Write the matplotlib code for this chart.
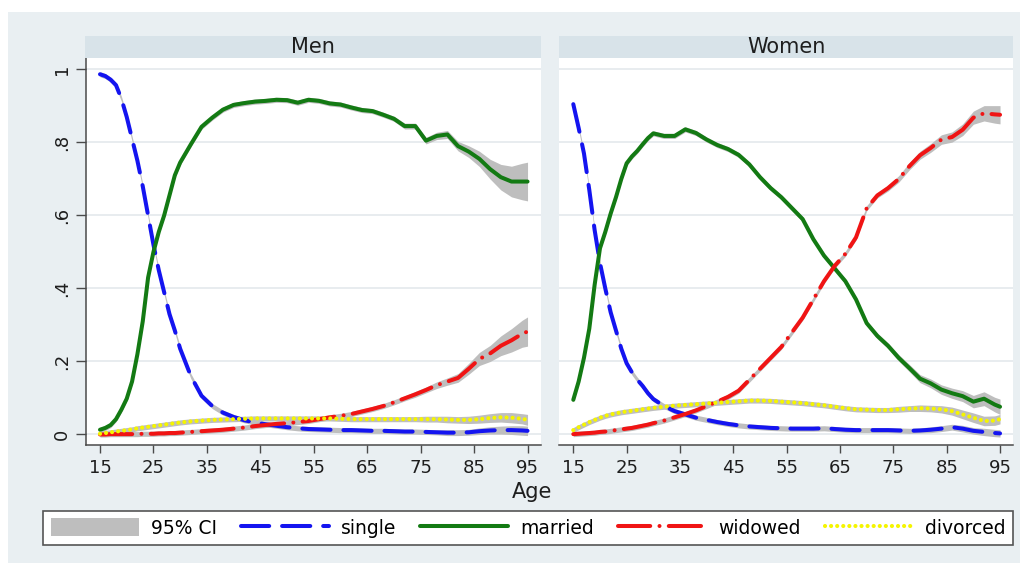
"""
Marital status by age, men and women, with 95% CI bands.
Two Stata-style panels with a shared legend underneath.
"""

import matplotlib.pyplot as plt
from matplotlib.patches import Rectangle, Patch
from matplotlib.lines import Line2D

W, H = 1024, 565

# Ages: yearly up to 30, then every 2 years, plus 95
ages = list(range(15, 31)) + list(range(32, 95, 2)) + [95]

# Men
men_single = [0.987, 0.982, 0.972, 0.957, 0.92, 0.87, 0.81, 0.75, 0.68, 0.60, 0.52, 0.45, 0.39, 0.33, 0.285, 0.235,
              0.16, 0.106, 0.078, 0.06, 0.048, 0.039, 0.033, 0.028, 0.024, 0.02, 0.017, 0.015, 0.014, 0.013, 0.012, 0.012,
              0.011, 0.01, 0.01, 0.009, 0.008, 0.008, 0.007, 0.006, 0.005, 0.005, 0.006, 0.009, 0.011, 0.012, 0.012, 0.011,
              0.010]
men_married = [0.013, 0.018, 0.026, 0.042, 0.068, 0.098, 0.145, 0.22, 0.31, 0.43, 0.50, 0.555, 0.60, 0.655, 0.71, 0.745,
               0.795, 0.843, 0.868, 0.89, 0.903, 0.908, 0.912, 0.914, 0.917, 0.916, 0.909, 0.917, 0.914, 0.907, 0.904, 0.896,
               0.889, 0.886, 0.876, 0.865, 0.845, 0.845, 0.805, 0.818, 0.822, 0.79, 0.775, 0.755, 0.727, 0.705, 0.693, 0.693,
               0.693]
men_widowed = [0.0, 0.0, 0.001, 0.001, 0.001, 0.001, 0.001, 0.001, 0.002, 0.002, 0.002, 0.003, 0.003, 0.004, 0.004, 0.005,
               0.007, 0.009, 0.011, 0.013, 0.016, 0.019, 0.023, 0.026, 0.029, 0.031, 0.034, 0.037, 0.042, 0.047, 0.051, 0.056,
               0.063, 0.07, 0.078, 0.088, 0.099, 0.11, 0.122, 0.135, 0.145, 0.155, 0.18, 0.207, 0.222, 0.243, 0.258, 0.276,
               0.282]
men_divorced = [0.002, 0.004, 0.006, 0.008, 0.01, 0.012, 0.014, 0.017, 0.019, 0.021, 0.023, 0.025, 0.027, 0.029, 0.031, 0.033,
                0.036, 0.038, 0.04, 0.041, 0.042, 0.043, 0.044, 0.044, 0.044, 0.044, 0.044, 0.044, 0.044, 0.044, 0.043, 0.042,
                0.042, 0.042, 0.042, 0.042, 0.042, 0.042, 0.042, 0.042, 0.041, 0.040, 0.040, 0.042, 0.045, 0.047, 0.046, 0.043,
                0.040]

# Women
women_single = [0.905, 0.84, 0.77, 0.67, 0.56, 0.47, 0.40, 0.335, 0.285, 0.235, 0.195, 0.17, 0.15, 0.133, 0.113, 0.097,
                0.078, 0.064, 0.055, 0.046, 0.04, 0.034, 0.029, 0.025, 0.022, 0.02, 0.018, 0.017, 0.016, 0.016, 0.016, 0.017,
                0.015, 0.013, 0.012, 0.012, 0.012, 0.012, 0.011, 0.01, 0.011, 0.013, 0.016, 0.02, 0.016, 0.01, 0.007, 0.004,
                0.003]
women_married = [0.095, 0.145, 0.21, 0.29, 0.41, 0.51, 0.555, 0.605, 0.65, 0.70, 0.743, 0.762, 0.777, 0.795, 0.812, 0.825,
                 0.818, 0.818, 0.836, 0.826, 0.808, 0.793, 0.782, 0.766, 0.74, 0.705, 0.675, 0.65, 0.62, 0.59, 0.535, 0.49,
                 0.455, 0.42, 0.37, 0.305, 0.27, 0.243, 0.21, 0.182, 0.153, 0.14, 0.123, 0.113, 0.105, 0.09, 0.098, 0.082,
                 0.076]
women_widowed = [0.001, 0.002, 0.003, 0.004, 0.005, 0.007, 0.008, 0.01, 0.012, 0.014, 0.016, 0.018, 0.021, 0.024, 0.027, 0.031,
                 0.038, 0.047, 0.056, 0.066, 0.078, 0.09, 0.103, 0.12, 0.15, 0.18, 0.21, 0.24, 0.28, 0.32, 0.37, 0.42,
                 0.462, 0.495, 0.54, 0.62, 0.655, 0.675, 0.70, 0.735, 0.765, 0.785, 0.808, 0.815, 0.835, 0.868, 0.88, 0.877,
                 0.876]
women_divorced = [0.012, 0.02, 0.027, 0.034, 0.04, 0.046, 0.051, 0.055, 0.058, 0.061, 0.063, 0.065, 0.067, 0.069, 0.071, 0.073,
                  0.076, 0.079, 0.081, 0.083, 0.085, 0.087, 0.089, 0.091, 0.093, 0.093, 0.092, 0.09, 0.088, 0.086, 0.083, 0.08,
                  0.076, 0.072, 0.069, 0.068, 0.067, 0.067, 0.069, 0.071, 0.072, 0.071, 0.069, 0.064, 0.055, 0.046, 0.037, 0.038,
                  0.042]

# CI half-widths (ages 15-30, 32-70, 72-94, 95)
men_single_ci = [0.007]*16 + [0.007]*20 + [0.007, 0.007, 0.007, 0.007, 0.008, 0.008, 0.008, 0.009, 0.010, 0.011, 0.012, 0.013] + [0.013]
men_married_ci = [0.007]*16 + [0.007]*20 + [0.008, 0.008, 0.009, 0.010, 0.011, 0.013, 0.016, 0.021, 0.027, 0.035, 0.042, 0.050] + [0.053]
men_widowed_ci = [0.007]*16 + [0.007]*15 + [0.007]*5 + [0.007, 0.008, 0.008, 0.009, 0.010, 0.012, 0.015, 0.018, 0.022, 0.027, 0.032, 0.037] + [0.040]
men_divorced_ci = [0.007]*16 + [0.007]*20 + [0.007, 0.007, 0.008, 0.008, 0.009, 0.009, 0.010, 0.011, 0.012, 0.013, 0.014, 0.014] + [0.015]
women_single_ci = [0.007]*16 + [0.007]*20 + [0.007, 0.007, 0.007, 0.007, 0.007, 0.008, 0.008, 0.008, 0.009, 0.009, 0.010, 0.010] + [0.010]
women_married_ci = [0.007]*16 + [0.007]*20 + [0.008, 0.008, 0.009, 0.010, 0.011, 0.012, 0.013, 0.014, 0.015, 0.017, 0.019, 0.020] + [0.021]
women_widowed_ci = [0.007]*16 + [0.007]*20 + [0.007, 0.008, 0.009, 0.010, 0.011, 0.012, 0.013, 0.014, 0.016, 0.018, 0.021, 0.024] + [0.025]
women_divorced_ci = [0.007]*16 + [0.007]*20 + [0.007, 0.007, 0.008, 0.008, 0.009, 0.009, 0.010, 0.011, 0.012, 0.013, 0.013, 0.013] + [0.013]

panels = ['Men', 'Women']
series_names = ['single', 'married', 'widowed', 'divorced']
xticks = [15, 25, 35, 45, 55, 65, 75, 85, 95]
yticks = [0, 0.2, 0.4, 0.6, 0.8, 1]
ytick_labels = ['0', '.2', '.4', '.6', '.8', '1']

values = {
    'Men': [men_single, men_married, men_widowed, men_divorced],
    'Women': [women_single, women_married, women_widowed, women_divorced],
}
cis = {
    'Men': [men_single_ci, men_married_ci, men_widowed_ci, men_divorced_ci],
    'Women': [women_single_ci, women_married_ci, women_widowed_ci, women_divorced_ci],
}

# Styles
bg = '#e9eff2'
strip_col = '#d8e3e9'
ci_col = '#bebebe'
axis_col = '#4a4a4a'
styles = [
    dict(color='#1414f0', lw=2.9, ls=(0, (7, 3.2)), dash_capstyle='round'),
    dict(color='#137a13', lw=2.9, ls='-', solid_capstyle='round'),
    dict(color='#f01414', lw=2.9, ls=(0, (8, 2.3, 0.01, 2.3)), dash_capstyle='round'),
    dict(color='#f5f500', lw=3.0, ls=(0, (0.01, 1.45)), dash_capstyle='round'),
]


def fx(px):
    return px / W


def fy(py):
    return 1 - py / H


def fbox(x0, y0, x1, y1):
    """ Pixel box (top-left origin) to figure-fraction rect """
    return [fx(x0), fy(y1), (x1 - x0) / W, (y1 - y0) / H]


fig = plt.figure(figsize=(W / 100, H / 100), dpi=100)
fig.patch.set_facecolor('white')
fig.add_artist(Rectangle((fx(8), fy(563)), (1020 - 8) / W, (563 - 12) / H,
                         transform=fig.transFigure, facecolor=bg, edgecolor='none', zorder=0))

boxes = {'Men': (86, 58, 541, 445), 'Women': (559, 58, 1013, 445)}
xlims = {'Men': (12.38, 97.52), 'Women': (12.32, 97.43)}

for name in panels:
    x0, y0, x1, y1 = boxes[name]
    ax = fig.add_axes(fbox(x0, y0, x1, y1))
    ax.set_facecolor('white')

    # Strip title
    sx0 = x0 - 1 if name == 'Men' else x0
    fig.add_artist(Rectangle((fx(sx0), fy(58)), (x1 - sx0) / W, 22 / H,
                             transform=fig.transFigure, facecolor=strip_col, edgecolor='none', zorder=1))
    fig.text(fx((sx0 + x1) / 2), fy(47), name, ha='center', va='center', fontsize=15, color='#1e1e1e')

    # CI bands first, then lines
    for vals, ci in zip(values[name], cis[name]):
        lo = [v - c for v, c in zip(vals, ci)]
        hi = [v + c for v, c in zip(vals, ci)]
        ax.fill_between(ages, lo, hi, color=ci_col, lw=0, zorder=2)
    for k, vals in enumerate(values[name]):
        ax.plot(ages, vals, zorder=3 + k, **styles[k])

    ax.set_xlim(*xlims[name])
    ax.set_ylim(-0.0288, 1.0315)
    ax.set_xticks(xticks)
    ax.set_yticks(yticks)
    ax.grid(axis='y', color='#e6ebee', lw=1.3)
    ax.set_axisbelow(True)
    for side in ['top', 'right']:
        ax.spines[side].set_visible(False)
    ax.spines['bottom'].set_color(axis_col)
    ax.spines['bottom'].set_linewidth(1.1)
    ax.tick_params(axis='x', length=6, width=1, color=axis_col, pad=4, labelsize=13, labelcolor='#1e1e1e')
    if name == 'Men':
        ax.spines['left'].set_color(axis_col)
        ax.spines['left'].set_linewidth(1.1)
        ax.set_yticklabels(ytick_labels)
        ax.tick_params(axis='y', length=7, width=1, color=axis_col, pad=4, labelsize=13,
                       labelrotation=90, labelcolor='#1e1e1e')
        for lab in ax.get_yticklabels():
            lab.set_va('center')
    else:
        ax.spines['left'].set_visible(False)
        ax.tick_params(axis='y', left=False, labelleft=False)

fig.text(fx(532), fy(492), 'Age', ha='center', va='center', fontsize=15, color='#1e1e1e')

# Legend
handles = [Patch(facecolor=ci_col, edgecolor='none')] + [Line2D([], [], **s) for s in styles]
labels = ['95% CI'] + series_names
leg = fig.legend(handles, labels, loc='lower left', bbox_to_anchor=fbox(43, 508, 1013, 545),
                 mode='expand', ncol=5, frameon=True, fancybox=False, edgecolor='#555555',
                 facecolor='white', framealpha=1, borderpad=0.4, borderaxespad=0,
                 handlelength=4.7, handletextpad=0.65, handleheight=1.1, fontsize=13.5)
leg.get_frame().set_linewidth(1.2)

fig.savefig('out.png', dpi=100)
